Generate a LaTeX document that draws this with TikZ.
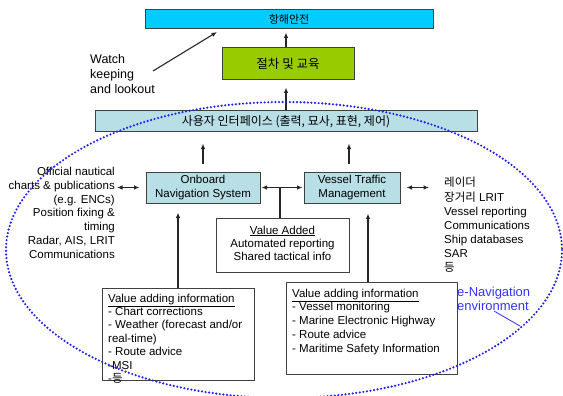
\documentclass[tikz,border=0pt]{standalone}
\usepackage{fontspec}
\setmainfont{Liberation Sans}
\newfontfamily\kr{Noto Sans CJK KR}
\usetikzlibrary{arrows.meta,calc}
\definecolor{topcyan}{HTML}{00CCFF}
\definecolor{procgreen}{HTML}{99CC00}
\definecolor{lblue}{HTML}{B8DEE6}
\definecolor{edge}{HTML}{404040}
\definecolor{dotblue}{HTML}{2020F0}
\definecolor{labblue}{HTML}{3333FF}
\tikzset{
  boxbase/.style={draw=edge, line width=1pt, inner sep=0pt, align=center},
  bluebox/.style={boxbase, fill=lblue, font=\fontsize{11.5}{14}\selectfont},
  plainbox/.style={boxbase, fill=white},
  txt/.style={inner sep=0pt, font=\fontsize{11.5}{13.7}\selectfont},
  arr/.style={draw=black!85, line width=1.1pt, -{Latex[length=5.5pt,width=4.5pt]}},
  dbl/.style={draw=black!85, line width=1.1pt, {Latex[length=5.5pt,width=4.5pt]}-{Latex[length=5.5pt,width=4.5pt]}},
  conn/.style={draw=black!85, line width=1.1pt},
}
\begin{document}
\begin{tikzpicture}[x=1pt,y=-1pt]
\useasboundingbox (0,0) rectangle (563,396);

% top boxes
\node[boxbase, fill=topcyan, minimum width=288pt, minimum height=19pt, font={\kr\fontsize{11}{13}\selectfont}] (safety) at (289,19.5) {항해안전};
\node[boxbase, fill=procgreen, minimum width=132pt, minimum height=32pt, font={\kr\fontsize{12.5}{14}\selectfont}] (proc) at (288,64) {절차 및 교육};
\node[boxbase, fill=lblue, minimum width=382pt, minimum height=21pt, font={\kr\fontsize{12}{13}\selectfont}] (ui) at (286,121.5) {사용자 인터페이스 (출력, 묘사, 표현, 제어)};

% watch keeping
\node[txt, anchor=base west, align=left, font=\fontsize{12.5}{15}\selectfont] (watch) at (90,93.5) {Watch\\keeping\\and lookout};
\coordinate (w1) at (153,71);
\coordinate (w2) at (217,32);
\draw[arr] (w1) -- (w2);

\draw[arr, shorten >=3pt] (proc.north -| 286,0) -- (safety.south -| 286,0);
\draw[arr, shorten >=7pt] (ui.north) -- (ui.north |- proc.south);

% system boxes
\node[bluebox, minimum width=114pt, minimum height=31pt] (onb) at (203,187.5) {Onboard\\Navigation System};
\node[bluebox, minimum width=96pt, minimum height=31pt] (vtm) at (352,187.5) {Vessel Traffic\\Management};

\draw[arr, shorten <=8pt, shorten >=11pt] (onb.north) -- (onb.north |- ui.south);
\draw[arr, shorten <=8pt, shorten >=11pt] ([xshift=-3pt]vtm.north) -- ([xshift=-3pt]vtm.north |- ui.south);

% left text
\node[txt, anchor=base east, align=right] (lt) at (115,258) {Official nautical\\charts \& publications\\(e.g. ENCs)\\Position fixing \&\\timing\\Radar, AIS, LRIT\\Communications};
\draw[dbl, shorten <=2pt, shorten >=6pt] (onb.west -| lt.east) -- (onb.west);

% right text
\node[txt, anchor=base west, align=left, font=\fontsize{11.5}{14.1}\selectfont] (rt) at (444,271.5) {{\kr 레이더}\\{\kr 장거리} LRIT\\Vessel reporting\\Communications\\Ship databases\\SAR\\{\kr 등}};
\draw[dbl, shorten <=6pt, shorten >=15pt] (vtm.east) -- (vtm.east -| rt.west);

% value added
\node[plainbox, minimum width=133pt, minimum height=54pt] (va) at (282.5,245) {};
\node[txt, anchor=base, align=center, font=\fontsize{11.5}{13}\selectfont] (vat) at (282.5,260) {\underline{Value Added}\\Automated reporting\\Shared tactical info};
\draw[dbl, shorten <=1pt, shorten >=1pt] (onb.east) -- (vtm.west);
\coordinate (j) at (280,187.5);
\draw[conn] (j) -- (j |- va.north);

% bottom boxes
\node[plainbox, minimum width=152pt, minimum height=92pt] (bl) at (178,334) {};
\node[txt, anchor=base west, align=left, font=\fontsize{11.5}{13.4}\selectfont] (blt) at (108,382.5) {\underline{Value adding information}\\- Chart corrections\\- Weather (forecast and/or\\real-time)\\- Route advice\\-MSI\\-{\kr 등}};
\draw[arr, shorten >=9pt] (bl.north) -- (bl.north |- onb.south);

\node[plainbox, minimum width=171pt, minimum height=92pt] (br) at (371.5,328) {};
\node[txt, anchor=base west, align=left, font=\fontsize{11.5}{13.7}\selectfont] (brt) at (292,352) {\underline{Value adding information}\\- Vessel monitoring\\- Marine Electronic Highway\\- Route advice\\- Maritime Safety Information};
\draw[arr, shorten >=10pt] ([xshift=-3.5pt]br.north) -- ([xshift=-3.5pt]br.north |- vtm.south);

% e-navigation environment
\node[inner sep=0pt, anchor=base west, align=left, text=labblue, font=\fontsize{13}{14}\selectfont] (env) at (457,310.5) {e-Navigation\\environment};
\coordinate (e1) at (494,311);
\coordinate (e2) at (520,326);
\draw[labblue, line width=0.8pt] (e1) -- (e2);

% dotted ellipse
\draw[dotblue, line width=2.4pt, line cap=round, dash pattern=on 0pt off 3.6pt] (284,250) ellipse [x radius=278, y radius=148];
\end{tikzpicture}
\end{document}
